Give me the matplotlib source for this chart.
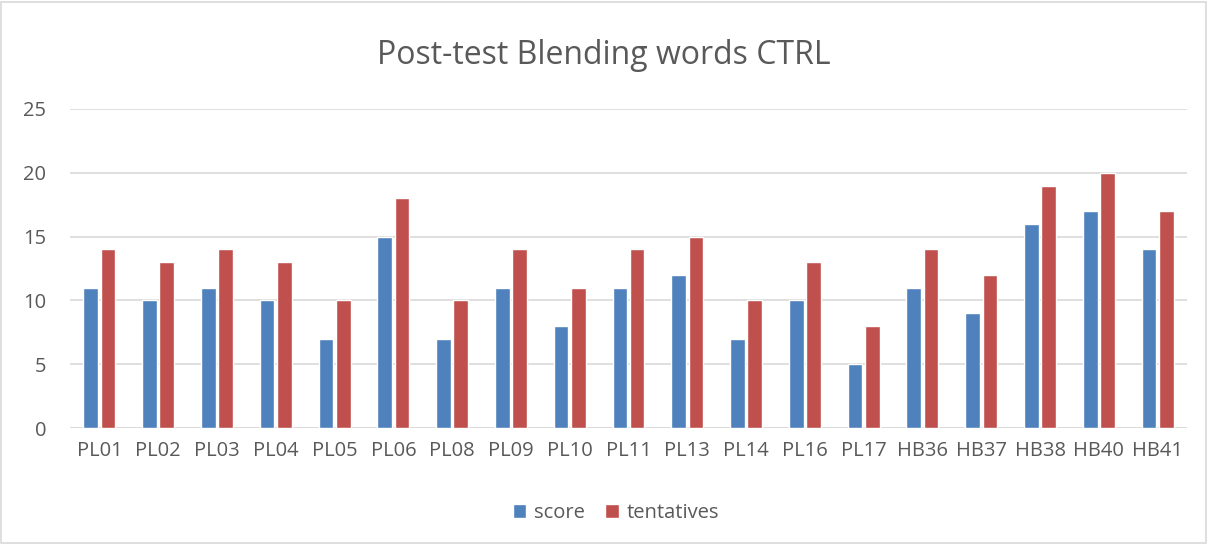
import matplotlib
matplotlib.use("Agg")
import matplotlib.pyplot as plt
from matplotlib.patches import Rectangle
import numpy as np

# scores per participant, post-test blending words (control group)
participants = ["PL01", "PL02", "PL03", "PL04", "PL05", "PL06", "PL08", "PL09", "PL10",
                "PL11", "PL13", "PL14", "PL16", "PL17", "HB36", "HB37", "HB38", "HB40", "HB41"]
score = [11, 10, 11, 10, 7, 15, 7, 11, 8, 11, 12, 7, 10, 5, 11, 9, 16, 17, 14]
tentatives = [14, 13, 14, 13, 10, 18, 10, 14, 11, 14, 15, 10, 13, 8, 14, 12, 19, 20, 17]

plt.rcParams['font.family'] = ['Open Sans', 'DejaVu Sans']
txt = "#595959"

fig = plt.figure(figsize=(12.08, 5.44), dpi=100)
fig.patches.append(Rectangle((0.001, 0.002), 0.997, 0.995, transform=fig.transFigure,
                             fill=False, edgecolor="#D9D9D9", linewidth=1.2))
ax = fig.add_axes([70 / 1208, 1 - 428 / 544, (1187 - 70) / 1208, (428 - 109) / 544])

x = np.arange(len(participants))
w = 0.25
ax.bar(x - 0.147, score, w, color="#4F81BD", edgecolor="white", linewidth=1, label="score", zorder=3)
ax.bar(x + 0.147, tentatives, w, color="#C0504D", edgecolor="white", linewidth=1, label="tentatives", zorder=3)

ax.set_xlim(-0.5, len(participants) - 0.5)
ax.set_ylim(0, 25)
ax.set_yticks(range(0, 26, 5))
ax.set_xticks(x)
ax.set_xticklabels(participants)
ax.grid(axis="y", color="#D9D9D9", linewidth=1.2, zorder=0)
for s in ax.spines.values():
    s.set_visible(False)
ax.axhline(0, color="#D9D9D9", linewidth=1.2, zorder=2)
ax.tick_params(length=0, labelsize=14.5, labelcolor=txt)
ax.tick_params(axis="x", pad=9)
ax.tick_params(axis="y", pad=17)

fig.text(0.5, 1 - 55 / 544, "Post-test Blending words CTRL", ha="center", va="center",
         fontsize=23, color=txt)
fig.legend(loc="center", bbox_to_anchor=(0.51, 1 - 513 / 544), ncol=2, frameon=False,
           fontsize=14.5, labelcolor=txt, handlelength=0.68, handleheight=0.68,
           columnspacing=1.0, handletextpad=0.4)

fig.savefig("out.png", dpi=100)
